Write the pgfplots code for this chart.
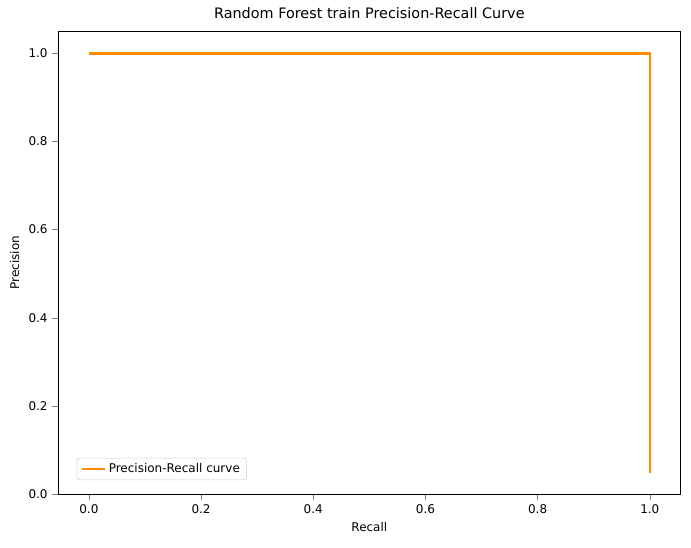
\documentclass[border=0pt]{standalone}
\usepackage{pgfplots}
\pgfplotsset{compat=1.18}
\usepackage{fontspec}
\setmainfont{DejaVu Sans}
\begin{document}
\begin{tikzpicture}
\useasboundingbox (-43.5pt,-39.75pt) rectangle (474.75pt,370.5pt);
\begin{axis}[at={(0,0)},anchor=south west,
 scale only axis, width=467pt, height=347pt,
 xmin=-0.055, xmax=1.055, ymin=0, ymax=1.05,
 xtick={0,0.2,0.4,0.6,0.8,1}, ytick={0,0.2,0.4,0.6,0.8,1},
 xticklabel style={/pgf/number format/.cd,fixed,fixed zerofill,precision=1},
 yticklabel style={/pgf/number format/.cd,fixed,fixed zerofill,precision=1},
 /pgf/number format/assume math mode=true,
 tick label style={font=\fontsize{9}{10}\selectfont},
 label style={font=\fontsize{9}{10}\selectfont},
 tick align=outside, tick pos=left,
 xlabel={Recall}, ylabel={Precision},
 title={Random Forest train Precision-Recall Curve},
 title style={font=\fontsize{10.8}{12}\selectfont},
 legend pos=south west,
 legend style={font=\fontsize{9}{10}\selectfont, draw=black!20, rounded corners=2pt},
 legend cell align=left]
\addplot[color={rgb,255:red,255;green,140;blue,0}, line width=1.8pt] coordinates {(0,1) (1,1) (1,0.048)};
\addlegendentry{Precision-Recall curve}
\end{axis}
\end{tikzpicture}
\end{document}
